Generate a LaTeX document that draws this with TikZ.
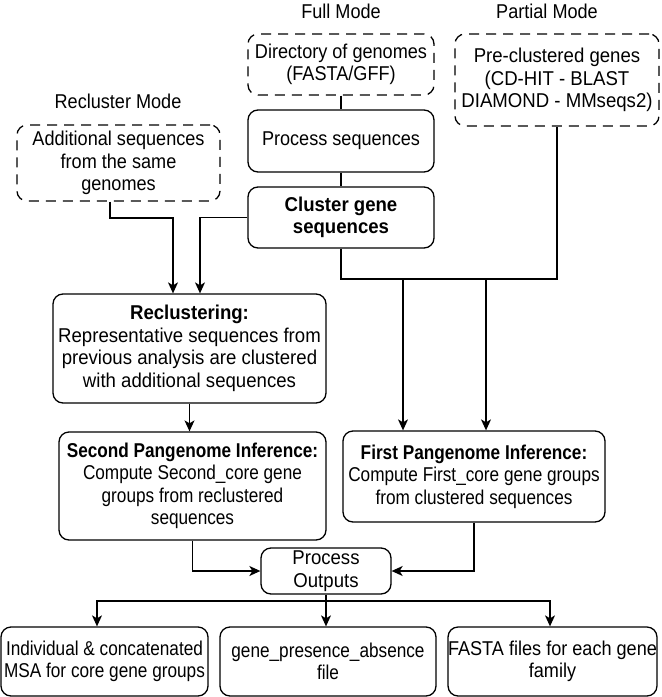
\documentclass[tikz,border=0pt]{standalone}
\usepackage{fontspec}
\setmainfont{Liberation Sans}[FakeStretch=0.86]
\newfontfamily\fontmid{Liberation Sans}[FakeStretch=0.905]
\newfontfamily\fontwide{Liberation Sans}[FakeStretch=0.93]
\usetikzlibrary{arrows.meta,calc}

\begin{document}
\begin{tikzpicture}[x=1pt,y=-1pt,
  every node/.style={font=\fontsize{20}{22.5}\selectfont, align=center, inner sep=0pt},
  midtext/.style={font=\fontmid\fontsize{20}{22.5}\selectfont},
  widetext/.style={font=\fontwide\fontsize{20}{22.5}\selectfont},
  stage/.style={draw, line width=1.3pt, rounded corners=10pt},
  source/.style={stage, dash pattern=on 10pt off 7pt},
  link/.style={line width=1.3pt},
  flow/.style={link, -{Stealth[length=11pt,width=10pt,inset=3pt]}}
]
\useasboundingbox (0,0) rectangle (662,697);

% mode captions
\node[midtext] (fullmode)    at (341,11)  {Full Mode};
\node[midtext] (partialmode) at (547,11)  {Partial Mode};
\node[midtext] (reclmode)    at (118,101) {Recluster Mode};

% inputs
\node[source, midtext, minimum width=186pt, minimum height=61pt] (dir) at (341,64.5)
  {Directory of genomes\\(FASTA/GFF)};
\node[source, widetext, minimum width=204pt, minimum height=92pt] (partial) at (557,80)
  {Pre-clustered genes\\(CD-HIT - BLAST\\DIAMOND - MMseqs2)};
\node[source, midtext, minimum width=203pt, minimum height=76pt] (add) at (118.5,163)
  {Additional sequences\\from the same\\genomes};

% processing stages
\node[stage, midtext, minimum width=186pt, minimum height=62pt] (proc) at (341,141)
  {Process sequences};
\node[stage, widetext, minimum width=186pt, minimum height=61pt] (clus) at (341,217.5)
  {\bfseries Cluster gene\\\bfseries sequences};
\node[stage, widetext, minimum width=273pt, minimum height=109pt] (reclus) at (189.5,348.5)
  {\bfseries Reclustering:\\Representative sequences from\\previous analysis are clustered\\with additional sequences};
\node[stage, minimum width=267pt, minimum height=108pt] (second) at (192.5,486)
  {\bfseries Second Pangenome Inference:\\Compute Second\_core gene\\groups from reclustered\\sequences};
\node[stage, minimum width=262pt, minimum height=91pt] (first) at (474,476.5)
  {\bfseries First Pangenome Inference:\\Compute First\_core gene groups\\from clustered sequences};
\node[stage, widetext, minimum width=130pt, minimum height=46pt] (po) at (326,571)
  {Process\\Outputs};

% outputs
\node[stage, minimum width=207pt, minimum height=69pt] (out1) at (104.5,661.5)
  {Individual \& concatenated\\MSA for core gene groups};
\node[stage, minimum width=216pt, minimum height=69pt] (out2) at (328,661.5)
  {gene\_presence\_absence\\file};
\node[stage, midtext, minimum width=205pt, minimum height=69pt] (out3) at (552.5,661.5)
  {FASTA files for each gene\\family};

% routing points
\coordinate (bus)   at (0,279);
\coordinate (busA)  at (403,279);
\coordinate (busB)  at (486,279);
\coordinate (addx)  at (110,0);
\coordinate (joinA) at (173,218);
\coordinate (joinB) at (200,218);
\coordinate (fanL)  at (97,601);
\coordinate (fanR)  at (550,601);

% full mode chain
\draw[link] (dir.south) -- (proc.north);
\draw[link] (proc.south) -- (clus.north);
\draw[link] (clus.south) |- (bus -| partial.south) -- (partial.south);
\draw[flow] (busA) -- (busA |- first.north);
\draw[flow] (busB) -- (busB |- first.north);

% recluster mode
\draw[flow] (add.south -| addx) |- (joinA) -- (joinA |- reclus.north);
\draw[flow] (clus.west) -| (joinB |- reclus.north);
\draw[flow] (reclus.south) -- (reclus.south |- second.north);

% into the output step
\draw[flow] (second.south) |- (po.west);
\draw[flow] (first.south) |- (po.east);

% fan-out to the result files
\draw[flow] (po.south) -- (po.south |- out2.north);
\draw[flow] (fanL -| po.south) -- (fanL) -- (fanL |- out1.north);
\draw[flow] (fanL -| po.south) -- (fanR) -- (fanR |- out3.north);
\end{tikzpicture}
\end{document}
